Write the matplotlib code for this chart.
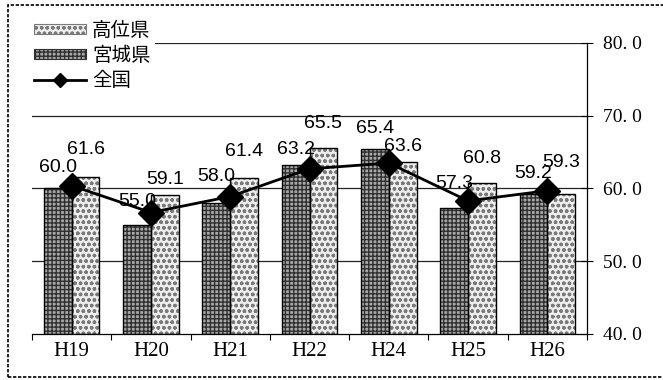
import matplotlib
matplotlib.use("Agg")
import matplotlib.pyplot as plt
import numpy as np
from matplotlib.patches import Rectangle, Patch
from matplotlib.lines import Line2D

# ---- data ----
categories = ["H19", "H20", "H21", "H22", "H24", "H25", "H26"]
miyagi = [60.0, 55.0, 58.0, 63.2, 65.4, 57.3, 59.2]      # 宮城県
koui = [61.6, 59.1, 61.4, 65.5, 63.6, 60.8, 59.3]        # 高位県
national = [60.4, 56.7, 58.9, 62.7, 63.5, 58.3, 59.7]    # 全国
y_ticks = [40.0, 50.0, 60.0, 70.0, 80.0]

# label offsets above bar tops (pixels)
miyagi_lab_dy = [12, 15, 18, 7, 12, 16, 12]
koui_lab_dy = [19, 7, 18, 16, 7, 16, 23]

plt.rcParams["font.family"] = ["Liberation Sans", "DejaVu Sans"]

fig = plt.figure(figsize=(6.63, 3.8), dpi=100)
ax = fig.add_axes([32 / 663, 1 - 334 / 380, (587 - 32) / 663, (334 - 43) / 380])

x = np.arange(len(categories))
w = 0.35

def hatched_bars(xpos, vals, face, hatch, hcolor):
    # fill + pattern, then a crisp black outline on top
    ax.bar(xpos, np.array(vals) - 40, w, bottom=40, color=face, hatch=hatch,
           edgecolor=hcolor, linewidth=0, zorder=2)
    ax.bar(xpos, np.array(vals) - 40, w, bottom=40, fill=False,
           edgecolor="black", linewidth=1.0, zorder=3)

hatched_bars(x - w / 2, miyagi, "#a8a8a8", "++++", "#303030")
hatched_bars(x + w / 2, koui, "#eeeeee", "ooo", "#7a7a7a")

ax.plot(x, national, color="black", lw=2, marker="D", ms=13,
        markerfacecolor="black", markeredgecolor="black", zorder=5)

for xi, v, dy in zip(x - w / 2, miyagi, miyagi_lab_dy):
    ax.annotate(f"{v:.1f}", (xi, v), xytext=(0, dy), textcoords="offset pixels",
                ha="center", va="bottom", fontsize=14, zorder=6)
for xi, v, dy in zip(x + w / 2, koui, koui_lab_dy):
    ax.annotate(f"{v:.1f}", (xi, v), xytext=(0, dy), textcoords="offset pixels",
                ha="center", va="bottom", fontsize=14, zorder=6)

ax.set_xlim(-0.5, len(categories) - 0.5)
ax.set_ylim(40, 80)

# gridlines
for t in y_ticks[1:]:
    ax.axhline(t, color="#222222", lw=0.9, zorder=1)

ax.yaxis.tick_right()
ax.set_yticks(y_ticks)
ax.set_yticklabels([f"{t:.1f}".replace(".", ". ") for t in y_ticks],
                   fontfamily="Liberation Serif", fontsize=14)
ax.tick_params(axis="y", direction="inout", length=9, width=0.8, pad=7)

ax.set_xticks(x)
ax.set_xticklabels(categories, fontfamily="Liberation Serif", fontsize=15)
ax.set_xticks(np.arange(-0.5, len(categories)), minor=True)
ax.tick_params(axis="x", which="major", length=0, pad=6)
ax.tick_params(axis="x", which="minor", direction="out", length=4, width=0.8)

for s in ["left", "top"]:
    ax.spines[s].set_visible(False)
ax.spines["right"].set_linewidth(0.9)
ax.spines["bottom"].set_linewidth(0.9)

# legend
handles = [
    Patch(facecolor="#eeeeee", edgecolor="#7a7a7a", hatch="ooo", linewidth=0.8),
    Patch(facecolor="#a8a8a8", edgecolor="#303030", hatch="++++", linewidth=0.8),
    Line2D([], [], color="black", lw=2, marker="D", ms=7),
]
leg = fig.legend(handles, ["高位県", "宮城県", "全国"], loc="upper left",
                 bbox_to_anchor=(30 / 663, 1 - 16 / 380),
                 prop={"family": ["Noto Sans CJK JP", "DejaVu Sans"], "size": 14},
                 frameon=True, facecolor="white", edgecolor="none", framealpha=1,
                 handlelength=2.7, handleheight=0.45, labelspacing=0.2,
                 handletextpad=0.3, borderpad=0.2, borderaxespad=0, fancybox=False)
leg.set_zorder(10)

# outer border
fig.patches.append(Rectangle((8 / 663, 3 / 380), 1.0, 1 - 8 / 380,
                             transform=fig.transFigure, fill=False,
                             edgecolor="black", lw=1.2, linestyle=(0, (2, 1))))

fig.savefig("out.png", dpi=100)
